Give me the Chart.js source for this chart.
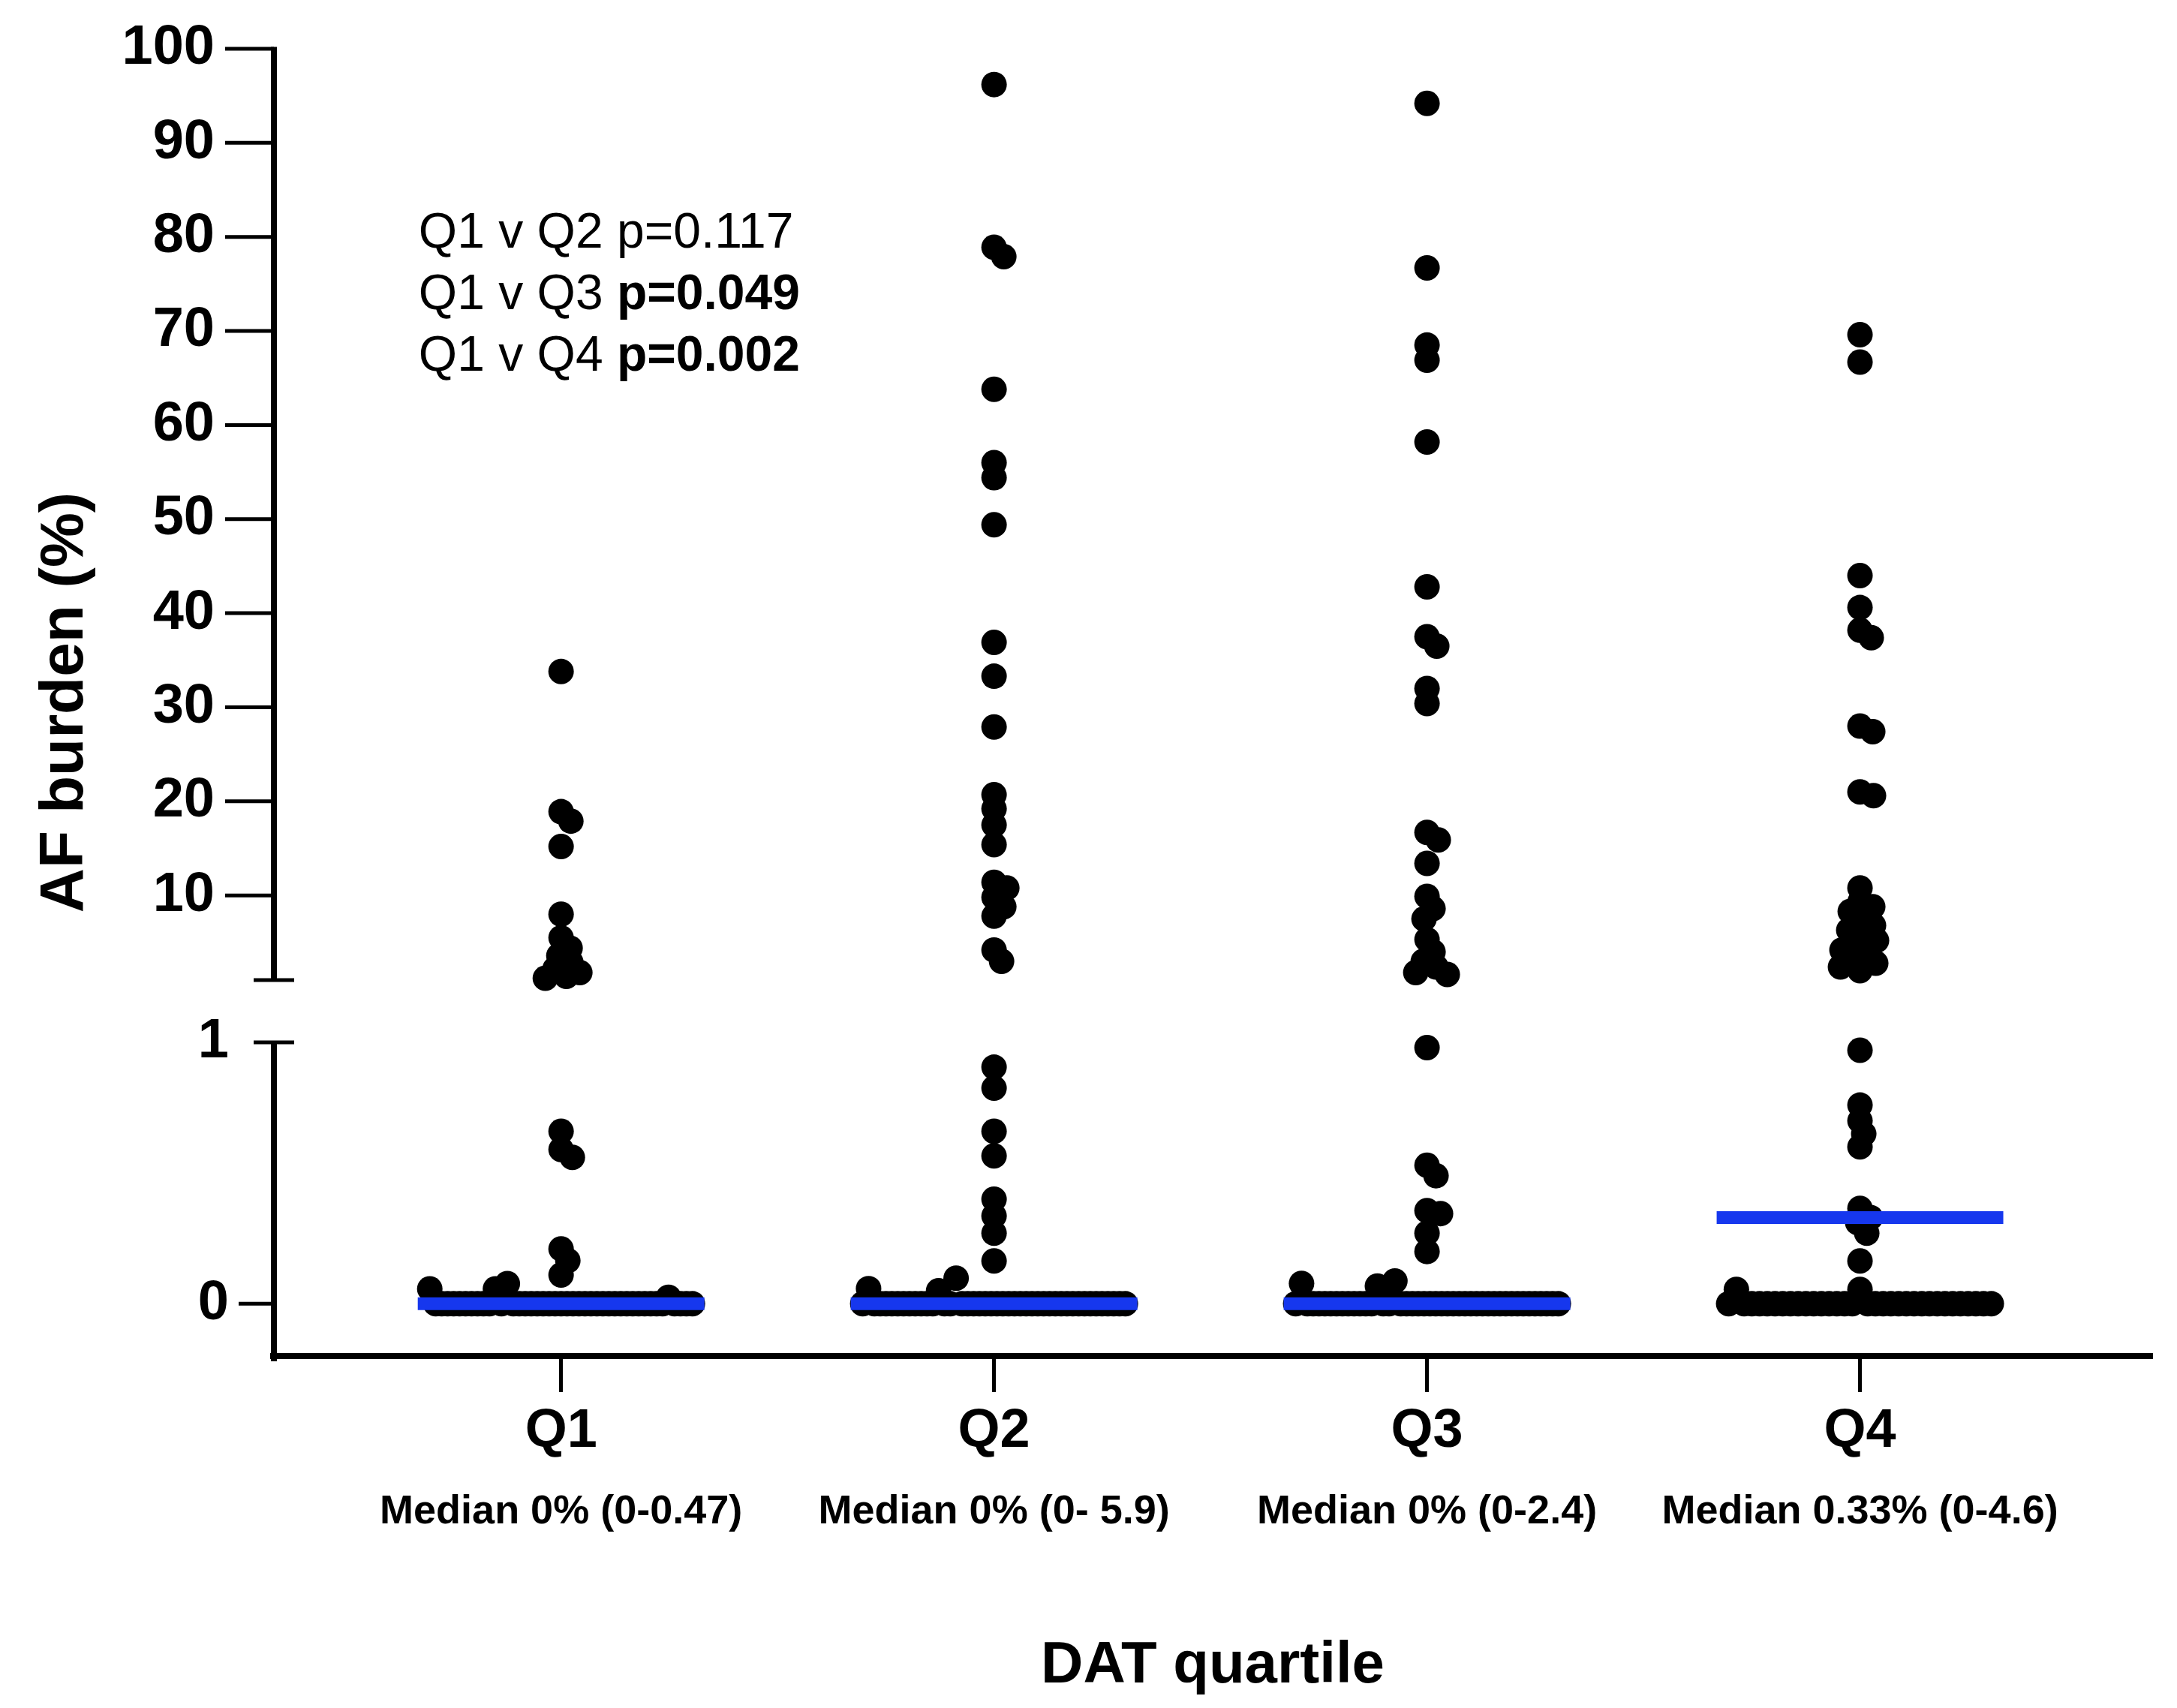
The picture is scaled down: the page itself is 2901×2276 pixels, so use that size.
<!DOCTYPE html>
<html>
<head>
<meta charset="utf-8">
<title>AF burden by DAT quartile</title>
<script src="https://cdn.jsdelivr.net/npm/chart.js@4.4.1/dist/chart.umd.min.js"></script>
<style>
  html, body { margin: 0; padding: 0; background: #fff; }
  canvas { display: block; }
</style>
</head>
<body>
<canvas id="afChart" width="2901" height="2276"></canvas>
<script>
// categories and labels
const groups = ['Q1', 'Q2', 'Q3', 'Q4'];
const medianLabels = ['Median 0% (0-0.47)', 'Median 0% (0- 5.9)', 'Median 0% (0-2.4)', 'Median 0.33% (0-4.6)'];
const medians = [0, 0, 0, 0.33];
const yTickValues = [0, 1, 10, 20, 30, 40, 50, 60, 70, 80, 90, 100];

// p values of the comparisons against Q1
const comparisons = ['Q1 v Q2', 'Q1 v Q3', 'Q1 v Q4'];
const pValues = ['0.117', '0.049', '0.002'];
const significant = [false, true, true];

// AF burden (%) per patient
// the values at (or very near) 0 are listed left to right as they sit in the bottom row
const afQ1 = [
  33.8, 18.9, 17.9, 15.2, 8.0, 5.5, 4.4, 3.6, 2.9, 2.2, 1.8, 1.4, 1.2,
  0.66, 0.59, 0.56, 0.21, 0.165, 0.11,
  0.057, 0, 0, 0, 0, 0, 0, 0, 0, 0, 0, 0.057, 0, 0.077, 0, 0,
  0, 0, 0, 0, 0, 0, 0, 0, 0, 0, 0, 0, 0, 0, 0, 0, 0, 0, 0, 0,
  0, 0, 0, 0, 0.025, 0, 0, 0, 0
];
const afQ2 = [
  96.2, 78.9, 77.9, 63.8, 56.0, 54.4, 49.4, 36.9, 33.3, 27.9, 20.7, 19.2, 17.5, 15.4,
  11.4, 10.8, 9.8, 8.8, 7.8, 4.2, 3.0,
  0.905, 0.825, 0.66, 0.566, 0.40, 0.336, 0.27, 0.164,
  0, 0.058, 0, 0, 0, 0, 0, 0, 0, 0, 0, 0, 0, 0.05, 0, 0, 0.098,
  0, 0, 0, 0, 0, 0, 0, 0, 0, 0, 0, 0, 0, 0, 0, 0, 0, 0, 0, 0,
  0, 0, 0, 0, 0, 0, 0, 0, 0
];
const afQ3 = [
  94.2, 76.7, 68.5, 66.9, 58.2, 42.8, 37.5, 36.5, 32.0, 30.4, 16.7, 15.9, 13.4,
  9.9, 8.6, 7.5, 5.3, 4.0, 3.0, 2.4, 1.8, 1.6,
  0.98, 0.53, 0.49, 0.356, 0.345, 0.27, 0.20,
  0, 0.078, 0, 0, 0, 0, 0, 0, 0, 0, 0, 0, 0, 0, 0.068, 0, 0, 0.087,
  0, 0, 0, 0, 0, 0, 0, 0, 0, 0, 0, 0, 0, 0, 0, 0, 0, 0, 0, 0,
  0, 0, 0, 0, 0, 0, 0, 0
];
const afQ4 = [
  69.6, 66.7, 44.0, 40.6, 38.2, 37.4, 28.0, 27.4, 21.0, 20.6, 10.8, 9.3, 8.8,
  8.3, 7.2, 6.8, 6.3, 5.8, 5.2, 4.7, 4.2, 3.7, 3.2, 2.8, 2.4, 2.0,
  0.97, 0.76, 0.70, 0.65, 0.60, 0.365, 0.33, 0.31, 0.27, 0.164,
  0, 0.055, 0, 0, 0, 0, 0, 0, 0, 0, 0, 0, 0, 0, 0, 0, 0, 0.055,
  0, 0, 0, 0, 0, 0, 0, 0, 0, 0, 0, 0, 0, 0, 0, 0, 0
];
const groupValues = [afQ1, afQ2, afQ3, afQ4];

// broken y axis: -0.2..1 below the break, 1..100 above it
const BREAK = { lowMin: -0.2, lowMax: 1, upMin: 1, upMax: 100, lowFrac: 418 / 1742, gapFrac: 83 / 1742 };
BREAK.upFrac = 1 - BREAK.lowFrac - BREAK.gapFrac;

const FONT = '"Liberation Sans", Arial, Helvetica, sans-serif';
const BLUE = '#1637ee';
const DOT_R = 17;

// layout numbers used to spread the dots sideways like the original scatter
const PLOT_H = 1742;     // px height of the plot area
const X_UNIT_PX = 577;   // px between two quartiles
const DOT_GAP = 18;      // min px distance between dot centres in the swarm
const ROW_HALF = 175;    // half width of the bottom row
const FLOOR = 0.1;       // values up to this sit in the bottom row
const MEDIAN_HALF = 0.331;

function brokenDecimal(v) {
  if (v <= BREAK.lowMax) {
    return (v - BREAK.lowMin) / (BREAK.lowMax - BREAK.lowMin) * BREAK.lowFrac;
  }
  return BREAK.lowFrac + BREAK.gapFrac + (v - BREAK.upMin) / (BREAK.upMax - BREAK.upMin) * BREAK.upFrac;
}

class BrokenScale extends Chart.LinearScale {
  static id = 'broken';

  buildTicks() {
    return yTickValues.map(v => ({ value: v }));
  }

  getPixelForValue(value) {
    if (value === null || value === undefined || isNaN(value)) return NaN;
    return this.getPixelForDecimal(brokenDecimal(value));
  }

  _calculatePadding() {
    this.paddingTop = 0;
    this.paddingBottom = 0;
    this.paddingLeft = 0;
    this.paddingRight = 0;
  }

  // labels of the lower segment sit a bit closer to the axis
  _computeLabelItems(chartArea) {
    const items = super._computeLabelItems(chartArea);
    items.forEach((item, i) => {
      if (this.ticks[i] && this.ticks[i].value <= BREAK.lowMax && item.options && item.options.translation) {
        item.options.translation[0] += 19;
      }
    });
    return items;
  }
}
Chart.register(BrokenScale);

// spread the dots of one group: bottom row evenly, the rest as a swarm
function swarm(values, center) {
  const pts = [];
  const row = values.filter(v => v <= FLOOR);
  row.forEach((v, j) => {
    const off = row.length > 1 ? -ROW_HALF + j * 2 * ROW_HALF / (row.length - 1) : 0;
    pts.push({ x: center + off / X_UNIT_PX, y: v });
  });
  const placed = [];
  values.filter(v => v > FLOOR).sort((a, b) => b - a).forEach(v => {
    const py = PLOT_H * (1 - brokenDecimal(v));
    let dx = 0;
    for (let k = 0; k < 600; k++) {
      const cand = k === 0 ? 0 : (k % 2 ? 1 : -1) * Math.ceil(k / 2);
      if (placed.every(p => Math.hypot(p.px - cand, p.py - py) >= DOT_GAP)) {
        dx = cand;
        break;
      }
    }
    placed.push({ px: dx, py: py });
    pts.push({ x: center + dx / X_UNIT_PX, y: v });
  });
  return pts;
}

function strokeLine(ctx, x1, y1, x2, y2) {
  ctx.beginPath();
  ctx.moveTo(x1, y1);
  ctx.lineTo(x2, y2);
  ctx.stroke();
}

// y axis line in two pieces, its tick marks and the break marks
const brokenAxisPlugin = {
  id: 'brokenAxis',
  afterDatasetsDraw(chart) {
    const { ctx, chartArea } = chart;
    const y = chart.scales.y;
    const ax = chartArea.left + 1;
    const top = y.getPixelForValue(BREAK.upMax);
    const breakUpper = y.getPixelForDecimal(BREAK.lowFrac + BREAK.gapFrac);
    const breakLower = y.getPixelForValue(BREAK.lowMax);
    ctx.save();
    ctx.strokeStyle = '#000';
    ctx.lineWidth = 8;
    strokeLine(ctx, ax, top - 2.5, ax, breakUpper);
    strokeLine(ctx, ax, breakLower, ax, chartArea.bottom + 7);
    ctx.lineWidth = 5;
    yTickValues.forEach(v => {
      const py = y.getPixelForValue(v);
      if (v > BREAK.lowMax) strokeLine(ctx, ax - 65, py, ax, py);
      else if (v < BREAK.lowMax) strokeLine(ctx, ax - 47, py, ax, py);
    });
    [breakUpper, breakLower].forEach(py => strokeLine(ctx, ax - 27, py, ax + 27, py));
    ctx.restore();
  }
};

// p value block and the median summaries under the quartile labels
const textPlugin = {
  id: 'afText',
  afterDraw(chart) {
    const { ctx } = chart;
    const x = chart.scales.x;
    const y = chart.scales.y;
    ctx.save();
    ctx.fillStyle = '#000';
    ctx.textBaseline = 'middle';
    ctx.textAlign = 'left';
    const tx = x.getPixelForValue(0.671);
    const ty0 = y.getPixelForValue(80.3);
    comparisons.forEach((c, i) => {
      const ty = ty0 + i * 82;
      ctx.font = '400 66px ' + FONT;
      const lead = c + ' ';
      ctx.fillText(lead, tx, ty);
      const w = ctx.measureText(lead).width;
      ctx.font = (significant[i] ? '700' : '400') + ' 66px ' + FONT;
      ctx.fillText('p=' + pValues[i], tx + w, ty);
    });
    ctx.font = '700 54px ' + FONT;
    ctx.textAlign = 'center';
    medianLabels.forEach((t, i) => {
      ctx.fillText(t, x.getPixelForValue(i + 1), x.top + 208);
    });
    ctx.restore();
  }
};

Chart.defaults.font.family = FONT;
Chart.defaults.color = '#000';

const datasets = [];
groups.forEach((g, i) => {
  datasets.push({
    type: 'line',
    label: g + ' median',
    data: [{ x: i + 1 - MEDIAN_HALF, y: medians[i] }, { x: i + 1 + MEDIAN_HALF, y: medians[i] }],
    borderColor: BLUE,
    borderWidth: 17,
    borderCapStyle: 'butt',
    pointRadius: 0,
    order: 0
  });
});
groups.forEach((g, i) => {
  datasets.push({
    type: 'scatter',
    label: g,
    data: swarm(groupValues[i], i + 1),
    pointRadius: DOT_R,
    pointBackgroundColor: '#000',
    pointBorderWidth: 0,
    order: 1
  });
});

new Chart(document.getElementById('afChart'), {
  type: 'scatter',
  data: { datasets: datasets },
  plugins: [brokenAxisPlugin, textPlugin],
  options: {
    responsive: false,
    animation: false,
    devicePixelRatio: 1,
    events: [],
    layout: { padding: { top: 65, right: 33, bottom: 0, left: 0 } },
    plugins: {
      legend: { display: false },
      tooltip: { enabled: false }
    },
    scales: {
      x: {
        type: 'linear',
        min: 0.335,
        max: 4.675,
        afterBuildTicks: (scale) => {
          scale.ticks = groups.map((g, i) => ({ value: i + 1 }));
        },
        afterFit: (scale) => { scale.height = 469; },
        ticks: {
          autoSkip: false,
          maxRotation: 0,
          padding: 10,
          color: '#000',
          font: { size: 72, weight: 'bold' },
          callback: (value) => groups[Math.round(value) - 1]
        },
        grid: { drawOnChartArea: false, drawTicks: true, tickLength: 48, tickWidth: 5, tickColor: '#000' },
        border: { display: true, color: '#000', width: 8 },
        title: {
          display: true,
          text: 'DAT quartile',
          color: '#000',
          font: { size: 78, weight: 'bold' },
          padding: { top: 0, bottom: 9 }
        }
      },
      y: {
        type: 'broken',
        min: BREAK.lowMin,
        max: BREAK.upMax,
        afterFit: (scale) => { scale.width = 364; },
        ticks: {
          autoSkip: false,
          padding: 78,
          color: '#000',
          font: { size: 74, weight: 'bold' },
          callback: (value) => String(value)
        },
        grid: { display: false, drawTicks: false },
        border: { display: false },
        title: {
          display: true,
          text: 'AF burden (%)',
          color: '#000',
          font: { size: 82, weight: 'bold' },
          padding: { top: 38, bottom: 0 }
        }
      }
    }
  }
});
</script>
</body>
</html>
